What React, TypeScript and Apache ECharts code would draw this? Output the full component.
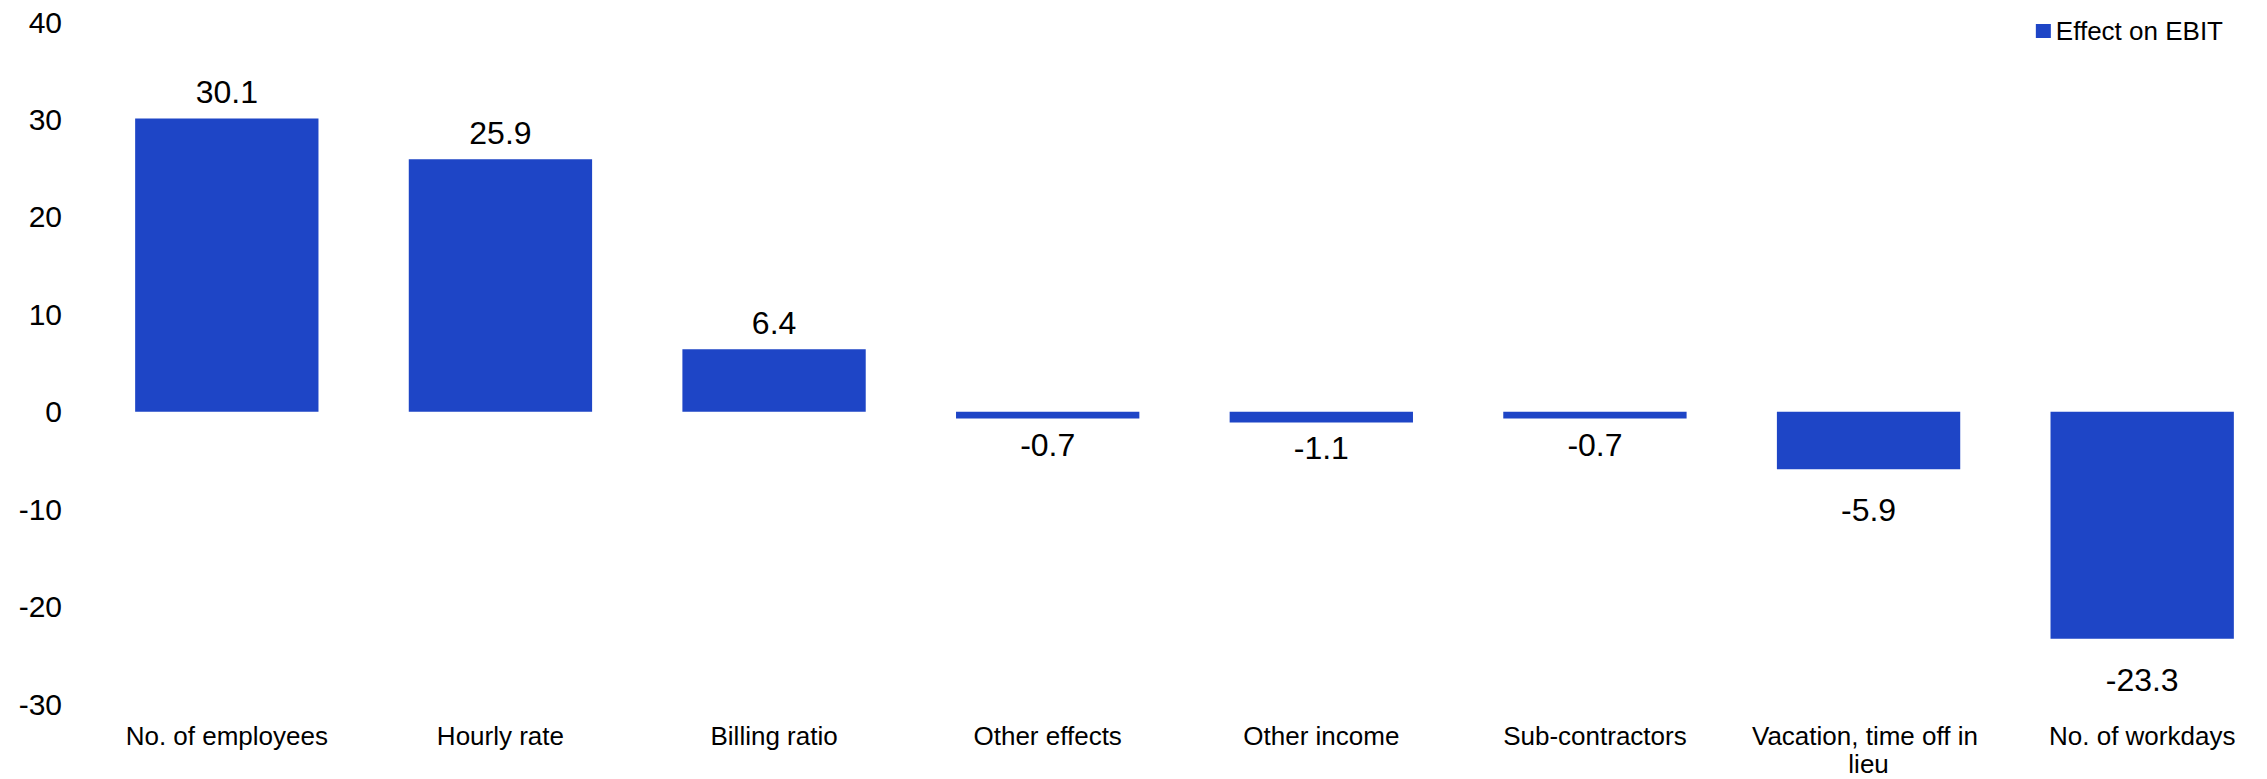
import React, { useEffect, useRef } from "react";
import * as echarts from "echarts";

const categories = [
  "No. of employees",
  "Hourly rate",
  "Billing ratio",
  "Other effects",
  "Other income",
  "Sub-contractors",
  "Vacation, time off in lieu",
  "No. of workdays",
];
const effectOnEbit = [30.1, 25.9, 6.4, -0.7, -1.1, -0.7, -5.9, -23.3];
const seriesName = "Effect on EBIT";
const yMin = -30;
const yMax = 40;
const yInterval = 10;

const FONT = "'Liberation Sans', Arial, Helvetica, sans-serif";
const BLUE = "#1e45c6";

export default function App() {
  const ref = useRef<HTMLDivElement>(null);
  useEffect(() => {
    if (!ref.current) return;
    const chart = echarts.init(ref.current, undefined, { renderer: "svg" });
    chart.setOption({
      animation: false,
      backgroundColor: "#ffffff",
      textStyle: { fontFamily: FONT },
      legend: {
        data: [seriesName],
        right: 44,
        top: 18,
        padding: 0,
        icon: "rect",
        itemWidth: 15,
        itemHeight: 14,
        itemGap: 10,
        textStyle: { fontSize: 26, color: "#000", fontFamily: FONT, padding: [0, 0, 0, 0] },
      },
      grid: {
        left: 90,
        right: -12,
        top: 22,
        bottom: 75,
        containLabel: false,
        outerBoundsMode: "none",
      },
      xAxis: {
        type: "category",
        data: categories,
        axisLine: { show: false, onZero: false },
        axisTick: { show: false },
        splitLine: { show: false },
        axisLabel: {
          interval: 0,
          margin: 18,
          fontSize: 26,
          lineHeight: 28,
          color: "#000",
          fontFamily: FONT,
          width: 240,
          overflow: "break",
        },
      },
      yAxis: {
        type: "value",
        min: yMin,
        max: yMax,
        interval: yInterval,
        axisLine: { show: false },
        axisTick: { show: false },
        splitLine: { show: false },
        axisLabel: {
          margin: 28,
          fontSize: 30,
          color: "#000",
          fontFamily: FONT,
        },
      },
      series: [
        {
          name: seriesName,
          type: "bar",
          barCategoryGap: "33%",
          itemStyle: { color: BLUE },
          label: {
            show: true,
            fontSize: 32,
            color: "#000",
            fontFamily: FONT,
            formatter: (p: any) => Number(p.value).toFixed(1),
          },
          data: effectOnEbit.map((v) => ({
            value: v,
            label: {
              position: v >= 0 ? "top" : "bottom",
              distance: v >= 0 ? 10 : v < -5 ? 25 : 10,
            },
          })),
        },
      ],
    });
    return () => chart.dispose();
  }, []);
  return (
    <div
      ref={ref}
      style={{ position: "fixed", left: 0, top: 0, width: 2267, height: 779 }}
    />
  );
}
